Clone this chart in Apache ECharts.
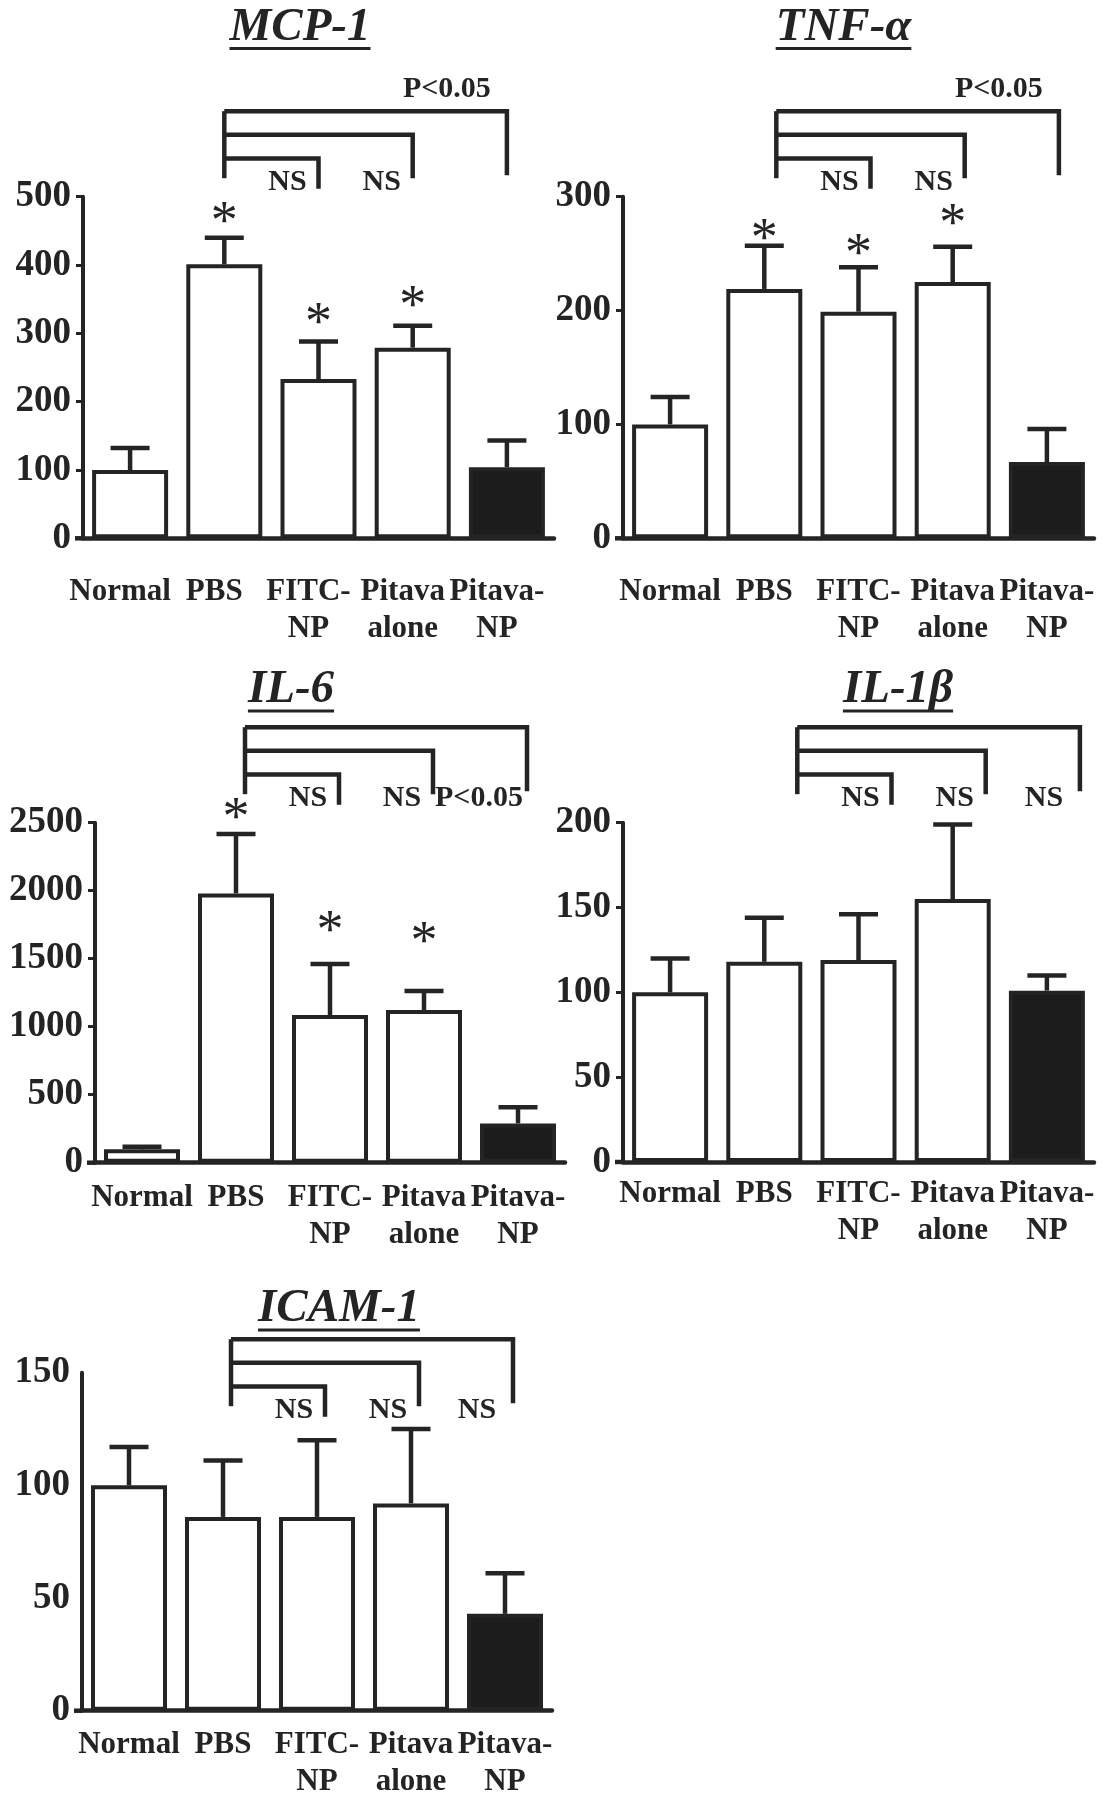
<!DOCTYPE html>
<html><head><meta charset="utf-8">
<script src="https://cdn.jsdelivr.net/npm/echarts@6/dist/echarts.min.js"></script>
<style>html,body{margin:0;padding:0;background:#fff}#c{width:1109px;height:1795px}</style>
</head><body><div id="c"></div>
<script>
// ---------- data ----------
const categories = ['Normal', 'PBS', 'FITC-\nNP', 'Pitava\nalone', 'Pitava-\nNP'];

const mcpMean = [100, 401, 233, 279, 104];
const mcpErr  = [32, 39, 55, 32, 39];
const mcpStar = [null, 476, 329, 354, null];
const mcpSig  = ['NS', 'NS', 'P<0.05'];

const tnfMean = [100, 219, 199, 225, 67];
const tnfErr  = [24, 38, 39, 31, 29];
const tnfStar = [null, 271, 258, 284, null];
const tnfSig  = ['NS', 'NS', 'P<0.05'];

const il6Mean = [98, 1980, 1086, 1123, 289];
const il6Err  = [20, 437, 375, 139, 118];
const il6Star = [null, 2605, 1772, 1689, null];
const il6Sig  = ['NS', 'NS', 'P<0.05'];

const il1bMean = [100, 118, 119, 155, 101];
const il1bErr  = [20, 26, 27, 44, 9];
const il1bStar = [null, null, null, null, null];
const il1bSig  = ['NS', 'NS', 'NS'];

const icamMean = [100, 86, 86, 92, 43];
const icamErr  = [17, 25, 34, 33, 18];
const icamStar = [null, null, null, null, null];
const icamSig  = ['NS', 'NS', 'NS'];

const mcpTicks  = {max: 500, step: 100};
const tnfTicks  = {max: 300, step: 100};
const il6Ticks  = {max: 2500, step: 500};
const il1bTicks = {max: 200, step: 50};
const icamTicks = {max: 150, step: 50};

// comparisons: PBS (index 1) vs FITC-NP, Pitava alone, Pitava-NP
const compareFrom = 1;
const compareTo = [2, 3, 4];

// ---------- layout / style ----------
const INK = '#242424';
const FONT = '"Liberation Serif", "Times New Roman", serif';

const panels = [
  {title: 'MCP-1', mean: mcpMean, err: mcpErr, star: mcpStar, sig: mcpSig, tk: mcpTicks,
   left: 83, top: 196.7, width: 471, height: 341.6, titleX: 300, titleBase: 43.5,
   labelMargin: 35, labelShift: 10, ticks: true, y0: -85.5, dx: 0, third: 'above'},
  {title: 'TNF-\u03b1', mean: tnfMean, err: tnfErr, star: tnfStar, sig: tnfSig, tk: tnfTicks,
   left: 623, top: 196.7, width: 471, height: 341.6, titleX: 843.5, titleBase: 43.5,
   labelMargin: 35, labelShift: 0, ticks: true, y0: -85.5, dx: 12, third: 'above'},
  {title: 'IL-6', mean: il6Mean, err: il6Err, star: il6Star, sig: il6Sig, tk: il6Ticks,
   left: 95, top: 822.7, width: 470, height: 340, titleX: 291, titleBase: 706,
   labelMargin: 17, labelShift: 0, ticks: true, y0: -95.5, dx: 9, third: 'rowP'},
  {title: 'IL-1\u03b2', mean: il1bMean, err: il1bErr, star: il1bStar, sig: il1bSig, tk: il1bTicks,
   left: 623, top: 822.7, width: 471, height: 339.3, titleX: 898, titleBase: 706,
   labelMargin: 13, labelShift: 0, ticks: true, y0: -95.5, dx: 33, third: 'row'},
  {title: 'ICAM-1', mean: icamMean, err: icamErr, star: icamStar, sig: icamSig, tk: icamTicks,
   left: 82, top: 1372.7, width: 470, height: 338, titleX: 339, titleBase: 1325,
   labelMargin: 16, labelShift: 0, ticks: false, y0: -33.5, dx: 8, third: 'row'}
];

const chart = echarts.init(document.getElementById('c'), null, {renderer: 'canvas'});

const grid = [], xAxis = [], yAxis = [], series = [];
panels.forEach((p, i) => {
  grid.push({left: p.left, top: p.top, width: p.width, height: p.height,
             containLabel: false, outerBoundsMode: 'none'});
  xAxis.push({
    type: 'category', gridIndex: i, data: categories,
    axisLine: {show: true, lineStyle: {color: INK, width: 4.5}},
    axisTick: {show: false},
    axisLabel: {interval: 0, color: INK, fontFamily: FONT, fontWeight: 'bold', fontSize: 31,
                lineHeight: 37, margin: p.labelMargin, padding: [0, 2 * p.labelShift, 0, 0]}
  });
  yAxis.push({
    type: 'value', gridIndex: i, min: 0, max: p.tk.max, interval: p.tk.step,
    splitLine: {show: false},
    axisLine: {show: true, lineStyle: {color: INK, width: 4}},
    axisTick: {show: p.ticks, length: 7, lineStyle: {color: INK, width: 3}},
    axisLabel: {color: INK, fontFamily: FONT, fontWeight: 'bold', fontSize: 37, margin: 12,
                formatter: v => String(v)}
  });
  series.push({
    type: 'bar', xAxisIndex: i, yAxisIndex: i, barWidth: 76, animation: false,
    data: p.mean.map((v, k) => ({
      value: v,
      itemStyle: {color: k === 4 ? '#1c1c1c' : '#ffffff', borderColor: INK, borderWidth: 4}
    }))
  });
  series.push({
    type: 'custom', xAxisIndex: i, yAxisIndex: i, animation: false, clip: false, z: 5,
    data: p.mean.map((v, k) => [k, v, p.err[k]]),
    renderItem: (params, api) => {
      const k = api.value(0), m = api.value(1), e = api.value(2);
      const a = api.coord([k, m]);
      const b = api.coord([k, m + e]);
      const half = 19.5;
      const ch = [
        {type: 'line', shape: {x1: a[0], y1: a[1], x2: b[0], y2: b[1]}, style: {stroke: INK, lineWidth: 4.5}},
        {type: 'line', shape: {x1: b[0] - half, y1: b[1], x2: b[0] + half, y2: b[1]}, style: {stroke: INK, lineWidth: 4.5}}
      ];
      const s = p.star[params.dataIndex];
      if (s != null) {
        const c = api.coord([k, s]);
        ch.push({type: 'text', x: c[0], y: c[1] + 11,
          style: {text: '*', fill: INK, font: '54px ' + FONT, align: 'center', verticalAlign: 'middle'}});
      }
      return {type: 'group', children: ch};
    }
  });
});

chart.setOption({animation: false, grid, xAxis, yAxis, series});

// ---------- annotations: titles, brackets, significance labels ----------
const measureCtx = document.createElement('canvas').getContext('2d');
const graphics = [];
panels.forEach((p, i) => {
  const tFont = 'italic bold 47px ' + FONT;
  measureCtx.font = tFont;
  const w = measureCtx.measureText(p.title).width;
  graphics.push({type: 'text', x: p.titleX, y: p.titleBase - 16,
    style: {text: p.title, font: tFont, fill: INK, align: 'center', verticalAlign: 'middle'}});
  graphics.push({type: 'line', shape: {x1: p.titleX - w / 2, y1: p.titleBase + 5, x2: p.titleX + w / 2, y2: p.titleBase + 5},
    style: {stroke: INK, lineWidth: 3}});

  // x-axis extension to the left of the y axis
  const bottom = p.top + p.height;
  graphics.push({type: 'line', shape: {x1: p.left - 8, y1: bottom, x2: p.left, y2: bottom},
    style: {stroke: INK, lineWidth: 4.5}});

  const px = idx => chart.convertToPixel({xAxisIndex: i}, idx);
  const y0 = p.top + p.y0;
  const step = 23.6;
  const leftX = px(compareFrom) + p.dx;
  graphics.push({type: 'polyline', shape: {points: [[leftX, y0], [leftX, y0 + 67]]},
    style: {stroke: INK, lineWidth: 4.5, fill: null}});
  const legDrop = [77.5, 67, 64];   // inner -> outer
  compareTo.forEach((to, j) => {
    const yj = y0 + (compareTo.length - 1 - j) * step;
    const lx = px(to) + p.dx;
    graphics.push({type: 'polyline', shape: {points: [[leftX, yj], [lx, yj], [lx, y0 + legDrop[j]]]},
      style: {stroke: INK, lineWidth: 4.5, fill: null, lineJoin: 'miter'}});
    let tx = lx - 31, ty = y0 + 71;
    if (j === 2) {
      if (p.third === 'above') { tx = lx - 60; ty = y0 - 22; }
      else if (p.third === 'rowP') { tx = lx - 48; }
      else { tx = lx - 36; }
    }
    graphics.push({type: 'text', x: tx, y: ty,
      style: {text: p.sig[j], font: 'bold 30px ' + FONT, fill: INK, align: 'center', verticalAlign: 'middle'}});
  });
});
chart.setOption({graphic: graphics});
</script>
</body></html>
